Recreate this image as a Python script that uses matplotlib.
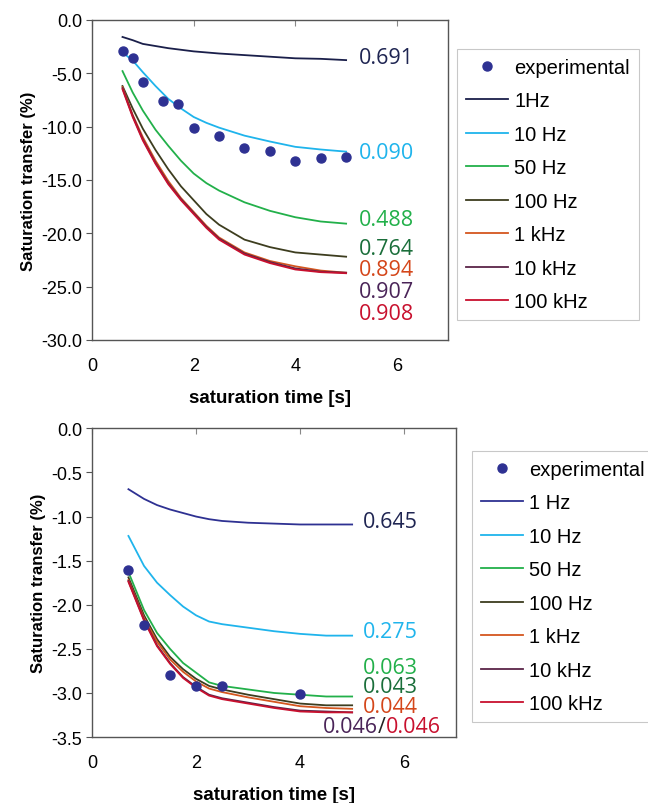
import matplotlib
matplotlib.use("Agg")
import matplotlib.pyplot as plt

# ---- data: top panel ----
top_exp_t = [0.6, 0.8, 1.0, 1.4, 1.7, 2.0, 2.5, 3.0, 3.5, 4.0, 4.5, 5.0]
top_exp_y = [-2.9, -3.6, -5.8, -7.6, -7.9, -10.1, -10.85, -12.0, -12.3, -13.2, -12.9, -12.85]

top_t = [0.6, 0.8, 1.0, 1.25, 1.5, 1.75, 2.0, 2.25, 2.5, 3.0, 3.5, 4.0, 4.5, 5.0]
top_1hz = [-1.6, -1.9, -2.25, -2.45, -2.65, -2.8, -2.95, -3.05, -3.15, -3.3, -3.45, -3.6, -3.65, -3.77]
top_10hz = [-3.05, -3.8, -4.9, -6.2, -7.4, -8.3, -9.1, -9.65, -10.1, -10.85, -11.4, -11.9, -12.15, -12.35]
top_50hz = [-4.8, -6.8, -8.5, -10.3, -11.8, -13.2, -14.4, -15.3, -16.0, -17.1, -17.9, -18.5, -18.9, -19.1]
top_100hz = [-6.2, -8.3, -10.2, -12.2, -14.0, -15.6, -16.9, -18.2, -19.2, -20.6, -21.3, -21.8, -22.0, -22.2]
top_1khz = [-6.3, -8.9, -11.0, -13.2, -15.1, -16.7, -18.0, -19.3, -20.4, -21.8, -22.6, -23.1, -23.5, -23.7]
top_10khz = [-6.4, -9.0, -11.2, -13.4, -15.3, -16.8, -18.1, -19.4, -20.5, -21.9, -22.7, -23.3, -23.6, -23.7]
top_100khz = [-6.5, -9.1, -11.3, -13.5, -15.4, -16.9, -18.2, -19.5, -20.6, -22.0, -22.8, -23.4, -23.65, -23.75]

top_labels = ["experimental", "1Hz", "10 Hz", "50 Hz", "100 Hz", "1 kHz", "10 kHz", "100 kHz"]
top_fit = ["0.691", "0.090", "0.488", "0.764", "0.894", "0.907", "0.908"]

# ---- data: bottom panel ----
bot_exp_t = [0.7, 1.0, 1.5, 2.0, 2.5, 4.0]
bot_exp_y = [-1.61, -2.23, -2.80, -2.92, -2.92, -3.01]

bot_t = [0.7, 1.0, 1.25, 1.5, 1.75, 2.0, 2.25, 2.5, 3.0, 3.5, 4.0, 4.5, 5.0]
bot_1hz = [-0.69, -0.80, -0.87, -0.92, -0.96, -1.0, -1.03, -1.05, -1.07, -1.08, -1.09, -1.09, -1.09]
bot_10hz = [-1.22, -1.56, -1.75, -1.89, -2.02, -2.12, -2.19, -2.22, -2.26, -2.30, -2.33, -2.35, -2.35]
bot_50hz = [-1.63, -2.06, -2.32, -2.50, -2.66, -2.77, -2.88, -2.92, -2.96, -3.0, -3.02, -3.04, -3.04]
bot_100hz = [-1.69, -2.12, -2.39, -2.59, -2.73, -2.84, -2.92, -2.96, -3.02, -3.07, -3.12, -3.14, -3.14]
bot_1khz = [-1.72, -2.15, -2.42, -2.62, -2.76, -2.87, -2.95, -2.99, -3.05, -3.10, -3.15, -3.17, -3.18]
bot_10khz = [-1.73, -2.17, -2.46, -2.66, -2.82, -2.93, -3.02, -3.06, -3.11, -3.16, -3.20, -3.21, -3.22]
bot_100khz = [-1.74, -2.18, -2.47, -2.67, -2.83, -2.94, -3.03, -3.07, -3.12, -3.17, -3.21, -3.22, -3.22]

bot_labels = ["experimental", "1 Hz", "10 Hz", "50 Hz", "100 Hz", "1 kHz", "10 kHz", "100 kHz"]
bot_fit = ["0.645", "0.275", "0.063", "0.043", "0.044"]
bot_fit_pair = ["0.046", "0.046"]

# ---- styles ----
dot_color = "#2e3192"
top_colors = ["#1a1f4a", "#1fb4ec", "#22b04a", "#3d3d1f", "#d4561f", "#5a2448", "#c8102e"]
bot_colors = ["#2e3192", "#1fb4ec", "#22b04a", "#3d3d1f", "#d4561f", "#5a2448", "#c8102e"]
top_text_colors = ["#1f2552", "#1fb4ec", "#22b04a", "#1a6e3a", "#d4461a", "#4a2458", "#c8102e"]
bot_text_colors = ["#1f2552", "#1fb4ec", "#22b04a", "#1a6e3a", "#d4461a"]
pair_colors = ["#4a2458", "#c8102e"]

plt.rcParams['font.family'] = ['Liberation Sans', 'DejaVu Sans']

fig = plt.figure(figsize=(6.48, 8.04), dpi=100)
ax1 = fig.add_axes([0.142, 0.576, 0.549, 0.398])
ax2 = fig.add_axes([0.142, 0.082, 0.562, 0.384])


def style_axes(ax, ylim, yticks):
    ax.set_xlim(0, 7)
    ax.set_ylim(*ylim)
    ax.set_xticks([0, 2, 4, 6])
    ax.set_yticks(yticks)
    ax.set_yticklabels([f"{v:.1f}" for v in yticks])
    ax.tick_params(axis='x', top=True, bottom=False, labeltop=False, labelbottom=True,
                   direction='in', length=4, pad=12, labelsize=13, color='#888888')
    ax.tick_params(axis='y', direction='out', length=4, pad=3, labelsize=13, color='#555555')
    for sp in ax.spines.values():
        sp.set_color('#555555')
        sp.set_linewidth(1.0)
    ax.set_ylabel("Saturation transfer (%)", fontsize=12, fontweight='bold', labelpad=4)
    ax.set_xlabel("saturation time [s]", fontsize=13.5, fontweight='bold', labelpad=11)


def add_legend(ax, x0, y0):
    leg = ax.legend(loc='upper left', bbox_to_anchor=(x0, y0), bbox_transform=fig.transFigure,
                    fontsize=14.5, frameon=True, fancybox=False, edgecolor='#bbbbbb',
                    handlelength=2.1, handletextpad=0.3, labelspacing=0.72, borderpad=0.45,
                    numpoints=1, borderaxespad=0)
    leg.get_frame().set_linewidth(0.8)
    return leg


# top panel
style_axes(ax1, (-30, 0), [0, -5, -10, -15, -20, -25, -30])
ax1.plot(top_exp_t, top_exp_y, 'o', color=dot_color, ms=6.5, label=top_labels[0], zorder=5)
top_series = [top_1hz, top_10hz, top_50hz, top_100hz, top_1khz, top_10khz, top_100khz]
for ys, c, lab in zip(top_series, top_colors, top_labels[1:]):
    ax1.plot(top_t, ys, color=c, lw=1.3, label=lab)
top_text_y = [-3.5, -12.4, -18.7, -21.4, -23.4, -25.5, -27.5]
for txt, ty, c in zip(top_fit, top_text_y, top_text_colors):
    ax1.text(5.25, ty, txt, color=c, fontsize=15.5, family='Open Sans', va='center', ha='left')
add_legend(ax1, 0.705, 0.938)

# bottom panel
style_axes(ax2, (-3.5, 0), [0, -0.5, -1.0, -1.5, -2.0, -2.5, -3.0, -3.5])
ax2.plot(bot_exp_t, bot_exp_y, 'o', color=dot_color, ms=6.5, label=bot_labels[0], zorder=5)
bot_series = [bot_1hz, bot_10hz, bot_50hz, bot_100hz, bot_1khz, bot_10khz, bot_100khz]
for ys, c, lab in zip(bot_series, bot_colors, bot_labels[1:]):
    ax2.plot(bot_t, ys, color=c, lw=1.3, label=lab)
bot_text_y = [-1.06, -2.30, -2.71, -2.93, -3.15]
for txt, ty, c in zip(bot_fit, bot_text_y, bot_text_colors):
    ax2.text(5.21, ty, txt, color=c, fontsize=15.5, family='Open Sans', va='center', ha='left')
t1 = ax2.text(4.44, -3.38, bot_fit_pair[0], color=pair_colors[0], fontsize=15.5,
              family='Open Sans', va='center', ha='left')
t2 = ax2.annotate("/", xy=(1, 0.5), xycoords=t1, color='#222222', fontsize=15.5,
                  family='Open Sans', va='center', ha='left')
t3 = ax2.annotate(bot_fit_pair[1], xy=(1, 0.5), xycoords=t2, color=pair_colors[1], fontsize=15.5,
                  family='Open Sans', va='center', ha='left')
add_legend(ax2, 0.728, 0.438)

fig.savefig("out.png", dpi=100)
